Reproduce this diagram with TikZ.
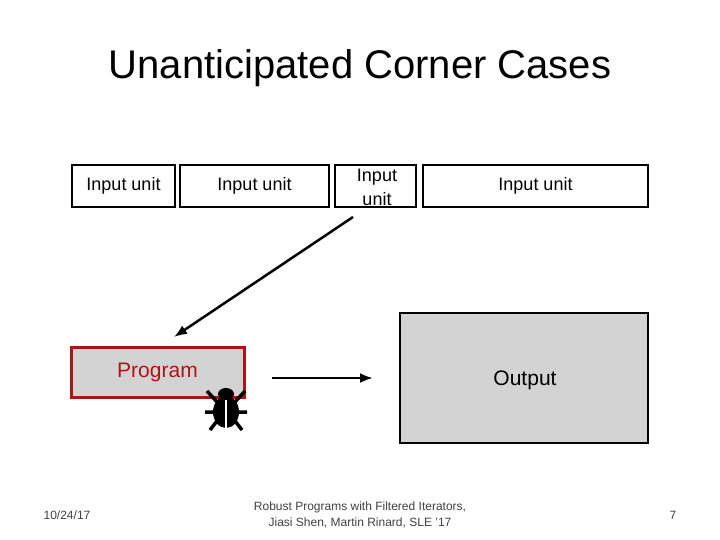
\documentclass[tikz,border=0pt]{standalone}
\usepackage{fontspec}
\setmainfont{Liberation Sans}
\usetikzlibrary{arrows.meta,positioning}
\definecolor{boxgray}{RGB}{211,211,211}
\definecolor{progred}{RGB}{175,20,20}
\begin{document}
\begin{tikzpicture}[x=1pt,y=-1pt,
		unit/.style = {draw, line width=2.5pt, minimum height=42pt, inner sep=1pt, font=\fontsize{18pt}{24pt}\selectfont, align=center},
		>={Latex[length=13pt,width=10pt]}]
	\useasboundingbox (0,0) rectangle (720,540);
	% title
	\node (title) at (360,68) {\fontsize{40pt}{44pt}\selectfont Unanticipated Corner Cases};
	% input units
	\node[unit, minimum width=103pt] (in1) at (123.5,186) {Input unit};
	\node[unit, minimum width=149pt] (in2) at (254.5,186) {Input unit};
	\node[unit, minimum width=81pt] (in3) at (375.5,186) {};
	\node[font=\fontsize{18pt}{24pt}\selectfont, align=center] (in3text) at (377,187) {Input\\unit};
	\node[unit, minimum width=225pt] (in4) at (535.5,186) {Input unit};
	% program and output
	\node[draw=progred, fill=boxgray, line width=3pt, minimum width=173pt, minimum height=50pt, text=progred, font=\fontsize{21pt}{24pt}\selectfont] (prog) at (157.5,372) {Program};
	\node[draw, fill=boxgray, line width=1.5pt, minimum width=248pt, minimum height=130pt] (out) at (524,378) {};
	\node[font=\fontsize{21pt}{24pt}\selectfont] (outtext) at (525,380) {Output};
	\coordinate (a1) at (353,217);
	\coordinate (a2) at (174,337);
	\draw[->, line width=2.5pt] (a1) -- (a2);
	\coordinate (b1) at (272,378);
	\coordinate (b2) at (373,378);
	\draw[->, line width=2.5pt] (b1) -- (b2);
	% bug
	\begin{scope}[shift={(226,409)}]
		\fill (0,3) ellipse (13pt and 16pt);
		\fill (0,-15) ellipse (8pt and 6pt);
		\draw[line width=3.5pt] (-8,-6) -- (-19,-18) (8,-6) -- (19,-18)
			(-10,3) -- (-21,3) (10,3) -- (21,3)
			(-9,12) -- (-16,21) (9,12) -- (16,21);
		\draw[white, line width=1.5pt] (0,-9) -- (0,19);
	\end{scope}
	% footer
	\node[font=\fontsize{12pt}{13pt}\selectfont, text=black!75] (date) at (67,515) {10/24/17};
	\node[font=\fontsize{12pt}{16pt}\selectfont, text=black!75, align=center] (foot) at (360,515) {Robust Programs with Filtered Iterators,\\Jiasi Shen, Martin Rinard, SLE '17};
	\node[font=\fontsize{12pt}{13pt}\selectfont, text=black!75] (page) at (673,515) {7};
\end{tikzpicture}
\end{document}
